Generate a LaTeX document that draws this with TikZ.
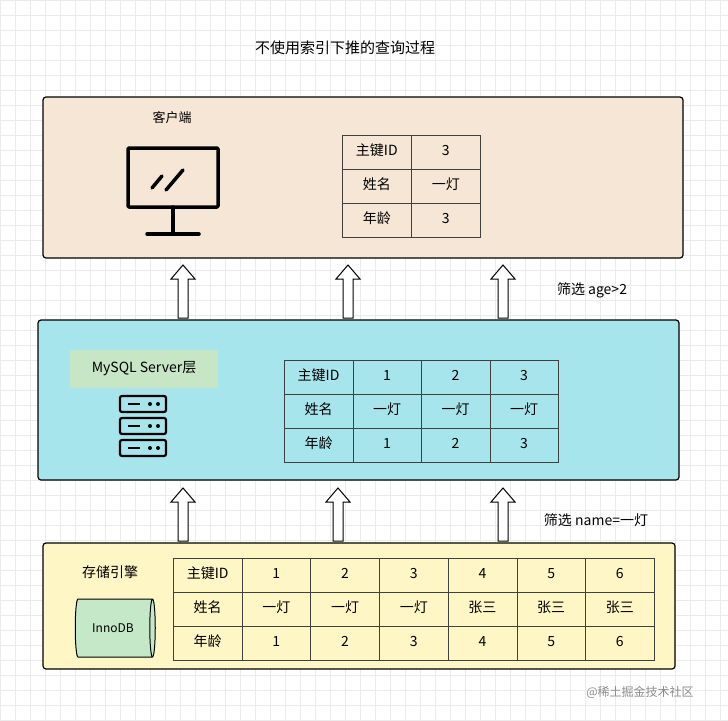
\documentclass[tikz,border=0pt]{standalone}
\usepackage{fontspec}
\setmainfont{Noto Sans CJK SC}
\usetikzlibrary{shapes.geometric}
\definecolor{clientbg}{HTML}{F5E6D5}
\definecolor{serverbg}{HTML}{A7E5EC}
\definecolor{enginebg}{HTML}{FFF6C6}
\definecolor{labelbg}{HTML}{C6E6C6}
\definecolor{dbbg}{HTML}{C4E8C8}
\tikzset{
	layer/.style={draw, line width=1.2pt, rounded corners=3pt},
	cell/.style={draw=black!75, line width=0.6pt, anchor=north west, minimum height=34pt, inner sep=0pt, text height=10pt, text depth=3pt, font=\fontsize{14}{16}\selectfont},
	uparrow/.style={draw, line width=1pt, fill=white},
	icon/.style={line width=3.5pt, line cap=round, line join=round},
}
\newcommand{\hollowup}[1]{\draw[uparrow] ([xshift=-5pt]#1) -- ++(0,-39) -- ++(-7,0) -- ++(12,-14) -- ++(12,14) -- ++(-7,0) -- ++(0,39) -- cycle;}
\begin{document}
\begin{tikzpicture}[x=1pt, y=-1pt]
	\useasboundingbox (0,0) rectangle (728,720);
	\fill[white] (0,0) rectangle (728,720);
	\draw[black!8, step=15pt] (0,0) grid (728,720);

	\node (title) at (345,48) {\fontsize{15}{17}\selectfont 不使用索引下推的查询过程};

	% client layer
	\draw[layer, fill=clientbg] (43,97) rectangle (683,258);
	\node (client) at (172,118) {\fontsize{13}{15}\selectfont 客户端};
	\draw[icon, rounded corners=1pt] (128,148) rectangle (218,207);
	\draw[icon] (152,188) -- (162,176) (166,190) -- (183,170);
	\draw[icon] (173,207) -- (173,233) (147,234) -- (199,234);
	\foreach \r/\cells in {0/{主键ID,3},1/{姓名,一灯},2/{年龄,3}}
		\foreach \c [count=\i from 0] in \cells
			\node[cell, minimum width=69pt] (c\r\i) at (342+\i*69,135+\r*34) {\c};

	% server layer
	\draw[layer, fill=serverbg] (38,320) rectangle (679,480);
	\node[fill=labelbg, minimum width=148pt, minimum height=38pt, rounded corners=2pt] (mysql) at (144,369) {\fontsize{14}{16}\selectfont MySQL Server层};
	\foreach \y in {396,418,440}
	{
		\draw[line width=2.2pt, rounded corners=2pt] (120,\y) rectangle (166,\y+16);
		\draw[line width=2.2pt] (128,\y+8) -- (140,\y+8);
		\fill (150,\y+8) circle (2pt) (158,\y+8) circle (2pt);
	}
	\foreach \r/\cells in {0/{主键ID,1,2,3},1/{姓名,一灯,一灯,一灯},2/{年龄,1,2,3}}
		\foreach \c [count=\i from 0] in \cells
			\node[cell, minimum width=68.5pt] (s\r\i) at (284+\i*68.5,360+\r*34) {\c};

	% engine layer
	\draw[layer, fill=enginebg] (43,543) rectangle (675,669);
	\node (engine) at (110,572) {\fontsize{14}{16}\selectfont 存储引擎};
	\node[cylinder, shape border rotate=0, draw, line width=1pt, fill=dbbg, minimum height=80pt, minimum width=58pt, aspect=0.35, font=\fontsize{12}{14}\selectfont] (innodb) at (113,628) {InnoDB};
	\foreach \r/\cells in {0/{主键ID,1,2,3,4,5,6},1/{姓名,一灯,一灯,一灯,张三,张三,张三},2/{年龄,1,2,3,4,5,6}}
		\foreach \c [count=\i from 0] in \cells
			\node[cell, minimum width=68.7pt] (e\r\i) at (173+\i*68.7,558+\r*34) {\c};

	% arrows
	\foreach \x in {183,348,503}
	{
		\coordinate (ua\x) at (\x,318);
		\hollowup{ua\x}
	}
	\foreach \x in {183,338,503}
	{
		\coordinate (la\x) at (\x,541);
		\hollowup{la\x}
	}
	\node (filter1) at (592,290) {\fontsize{14}{16}\selectfont 筛选 age>2};
	\node (filter2) at (596,520) {\fontsize{14}{16}\selectfont 筛选 name=一灯};

	\node[black!45] (mark) at (640,692) {\fontsize{12}{14}\selectfont @稀土掘金技术社区};
\end{tikzpicture}
\end{document}
